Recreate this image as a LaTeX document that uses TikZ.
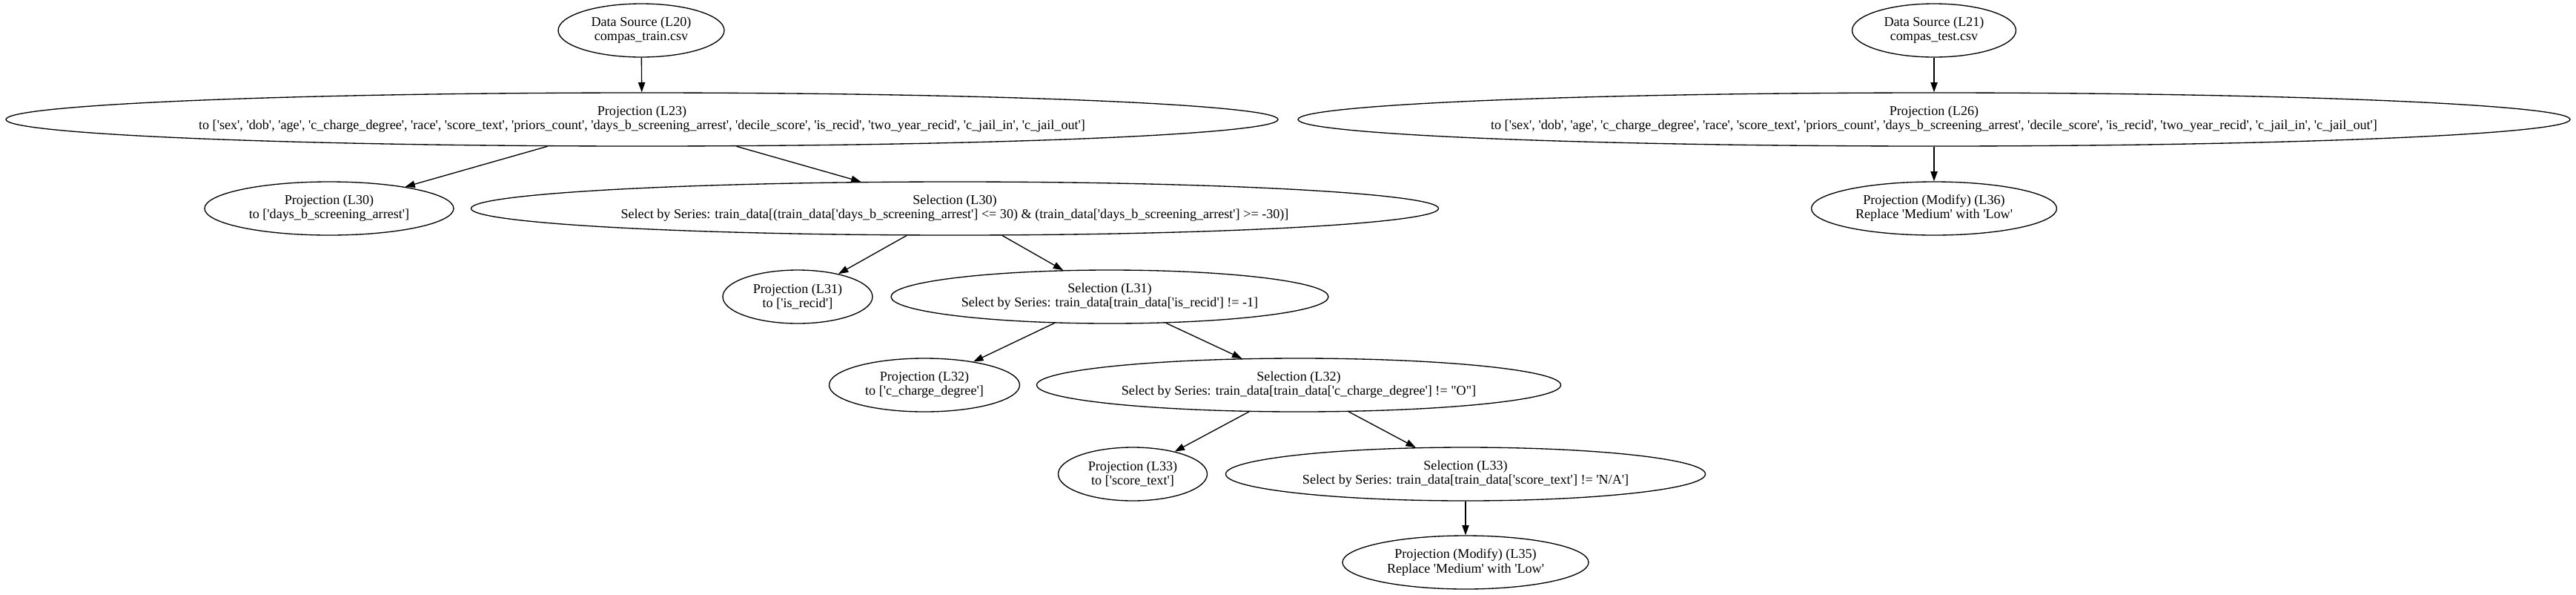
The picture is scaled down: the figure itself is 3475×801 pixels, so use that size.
\documentclass[tikz,border=0pt]{standalone}
\usepackage{fontspec}
\setmainfont{Liberation Serif}[Ligatures=TeXOff]
\usetikzlibrary{shapes,arrows.meta}

\newcommand{\collist}{to ['sex', 'dob', 'age', 'c\_charge\_degree', 'race', 'score\_text', 'priors\_count', 'days\_b\_screening\_arrest', 'decile\_score', 'is\_recid', 'two\_year\_recid', 'c\_jail\_in', 'c\_jail\_out']}

\begin{document}
\begin{tikzpicture}[x=0.75pt,y=-0.75pt,line width=1pt,
		op/.style={draw,ellipse,inner sep=0pt,minimum height=54pt,minimum width=#1*0.75pt},
		flow/.style={-{Triangle[length=10pt,width=7pt]}}]
		\tikzstyle{every node}=[align=center,font=\fontsize{13.6pt}{14.3pt}\selectfont]
		\useasboundingbox (0,0) rectangle (3475,801);
		% train data
		\node[op=224] (src20) at (865,41) {Data Source (L20)\\compas\_train.csv};
		\node[op=1716] (prj23) at (866,161) {Projection (L23)\\\collist};
		\node[op=336] (prj30) at (444,281) {Projection (L30)\\to ['days\_b\_screening\_arrest']};
		\node[op=1305] (sel30) at (1288,281) {Selection (L30)\\Select by Series: train\_data[(train\_data['days\_b\_screening\_arrest'] <= 30) \& (train\_data['days\_b\_screening\_arrest'] >= -30)]};
		\node[op=202] (prj31) at (1076,400) {Projection (L31)\\to ['is\_recid']};
		\node[op=590] (sel31) at (1497,400) {Selection (L31)\\Select by Series: train\_data[train\_data['is\_recid'] != -1]};
		\node[op=257] (prj32) at (1247,519) {Projection (L32)\\to ['c\_charge\_degree']};
		\node[op=707] (sel32) at (1752,519) {Selection (L32)\\Select by Series: train\_data[train\_data['c\_charge\_degree'] != "O"]};
		\node[op=201] (prj33) at (1528,639) {Projection (L33)\\to ['score\_text']};
		\node[op=647] (sel33) at (1977,639) {Selection (L33)\\Select by Series: train\_data[train\_data['score\_text'] != 'N/A']};
		\node[op=332] (mod35) at (1977,758) {Projection (Modify) (L35)\\Replace 'Medium' with 'Low'};
		% test data
		\node[op=221] (src21) at (2609,41) {Data Source (L21)\\compas\_test.csv};
		\node[op=1716] (prj26) at (2609,161) {Projection (L26)\\\collist};
		\node[op=331] (mod36) at (2609,281) {Projection (Modify) (L36)\\Replace 'Medium' with 'Low'};
		\foreach \a/\b in {src20/prj23,prj23/prj30,prj23/sel30,sel30/prj31,sel30/sel31,
			sel31/prj32,sel31/sel32,sel32/prj33,sel32/sel33,sel33/mod35,src21/prj26,prj26/mod36}
		\draw[flow] (\a) -- (\b);
	\end{tikzpicture}
\end{document}
